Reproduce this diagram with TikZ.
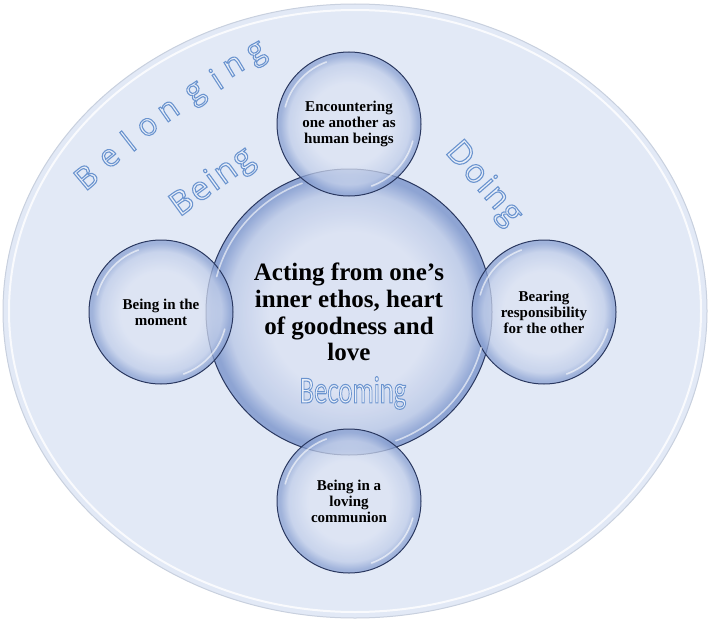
\documentclass[tikz,border=0pt]{standalone}
\usepackage{fontspec}
\setmainfont{Liberation Serif}
\newfontfamily\artfont{Open Sans}
\newfontfamily\bannerfont{Carlito}
\usepackage{xcolor}
\usepackage{tikz}
\usetikzlibrary{positioning}

\definecolor{plate}{HTML}{E2E9F6}
\definecolor{platerim}{HTML}{C8D0DE}
\definecolor{bubin}{HTML}{DCE3F3}
\definecolor{bubmid}{HTML}{C0CDE9}
\definecolor{bubrim}{HTML}{8AA1D2}
\definecolor{bubline}{HTML}{2A3860}
\definecolor{artfill}{HTML}{E9EFF9}

\pgfdeclareradialshading{bubble}{\pgfpoint{0bp}{0bp}}{color(0bp)=(bubin); color(14bp)=(bubin); color(21bp)=(bubmid); color(24bp)=(bubrim); color(25bp)=(bubrim); color(50bp)=(bubrim)}

% outlined word art: fill + stroke text rendering mode
\newcommand{\art}[1]{\textcolor{artfill}{\special{pdf:literal direct 2 Tr 1.1 w 0.42 0.58 0.81 RG}#1\special{pdf:literal direct 0 Tr}}}

\begin{document}
\begin{tikzpicture}[x=1pt, y=-1pt,
    bubble/.style={circle, draw=bubline, line width=1pt, shading=bubble, fill opacity=0.75, text opacity=1, minimum size=144pt, inner sep=0pt, align=center, font=\bfseries\fontsize{15}{16}\selectfont},
    hub/.style={bubble, minimum size=286pt, fill opacity=0.95, font=\bfseries\fontsize{25}{26.7}\selectfont},
    gleam/.style={white, line width=1.6pt, opacity=0.6, line cap=round},
    word/.style={inner sep=0pt, font=\artfont\fontsize{31}{31}\selectfont}]

    \useasboundingbox (0,0) rectangle (709,626);

    \fill[plate] (355,311) ellipse [x radius=352, y radius=307];
    \draw[platerim, line width=1pt] (355,311) ellipse [x radius=352, y radius=307];
    \draw[white, line width=2pt, opacity=0.8] (355,311) ellipse [x radius=346, y radius=301];

    \node (core) [hub] at (349,312) {Acting from one's\\inner ethos, heart\\of goodness and\\love};

    \node (encounter) [bubble, above=-28pt of core] {Encountering\\one another as\\human beings};
    \node (moment) [bubble, left=-28pt of core] {Being in the\\moment};
    \node (duty) [bubble, right=-21pt of core] {Bearing\\responsibility\\for the other};
    \node (communion) [bubble, below=-27pt of core] {Being in a\\loving\\communion};

    \foreach \n/\r in {core/143, encounter/72, moment/72, duty/72, communion/72} {
        \draw[gleam] (\n.center) ++(-110:\r-6) arc [start angle=-110, end angle=-165, radius=\r-6];
        \draw[gleam] (\n.center) ++(70:\r-6) arc [start angle=70, end angle=15, radius=\r-6];
    }

    \foreach \ch/\x/\y/\a [count=\i] in {B/86/177/40, e/110/158/39, l/128/141/38, o/148/127/37, n/169/111/35, g/197/95/34, i/216/79/33, n/234/66/31, g/258/55/30}
        \node (belong\i) [word, rotate=\a] at (\x,\y) {\art{\ch}};

    \node (being) [word, font=\artfont\fontsize{33}{33}\selectfont, rotate=36] at (213,183) {\addfontfeatures{LetterSpace=6}\art{Being}};
    \node (doing) [word, font=\artfont\fontsize{33}{33}\selectfont, rotate=-49] at (483,184) {\addfontfeatures{LetterSpace=6}\art{Doing}};
    \node (becoming) [word, font=\bannerfont\fontsize{38}{38}\selectfont, xscale=0.7, transform shape] at (353,393) {\art{Becoming}};

\end{tikzpicture}
\end{document}
